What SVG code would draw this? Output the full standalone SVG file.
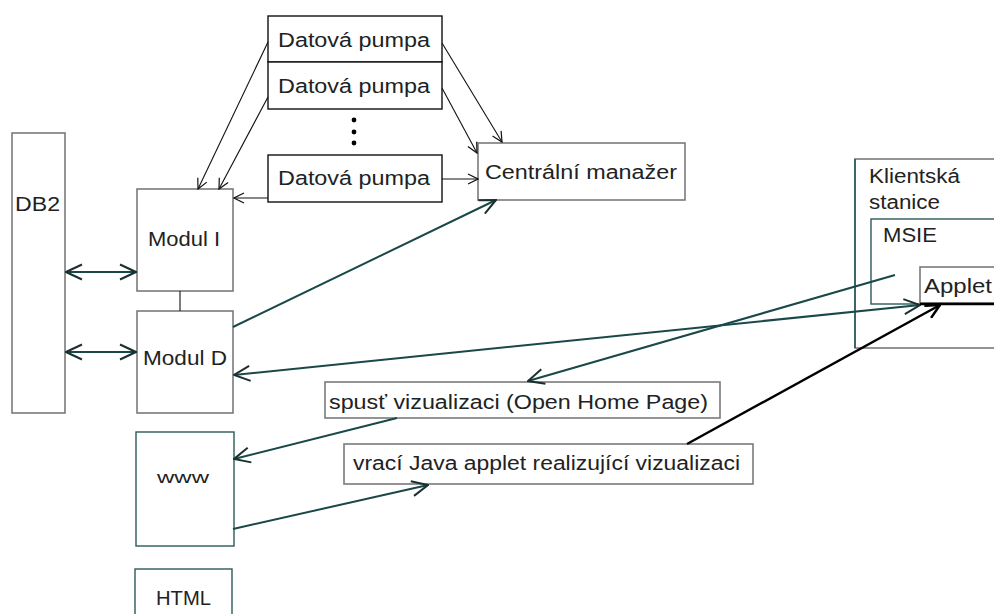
<svg xmlns="http://www.w3.org/2000/svg" width="994" height="614" viewBox="0 0 994 614">
<style>
text{font-family:"Liberation Sans",Arial,sans-serif;font-size:20px;fill:#222}
.gb{fill:#fff;stroke:#7a7a7a;stroke-width:1.6}
.bb{fill:#fff;stroke:#111;stroke-width:1.4}
.tb{fill:#fff;stroke:#2a5a5a;stroke-width:1.4}
.thin{stroke:#111;stroke-width:1.1;fill:none}
.teal{stroke:#1a4848;stroke-width:2;fill:none}
.blk{stroke:#000;stroke-width:2.4;fill:none}
</style>
<defs>
<marker id="a" viewBox="0 0 12 12" refX="11" refY="6" markerWidth="12" markerHeight="12" markerUnits="userSpaceOnUse" orient="auto-start-reverse">
<polyline points="1,1 11,6 1,11" fill="none" stroke="#111" stroke-width="1.2"/>
</marker>
<marker id="at" viewBox="0 0 18 18" refX="17" refY="9" markerWidth="18" markerHeight="18" markerUnits="userSpaceOnUse" orient="auto-start-reverse">
<polyline points="1,1.5 17,9 1,16.5" fill="none" stroke="#1a3030" stroke-width="2"/>
</marker>
<marker id="ab" viewBox="0 0 16 16" refX="15" refY="8" markerWidth="16" markerHeight="16" markerUnits="userSpaceOnUse" orient="auto-start-reverse">
<polyline points="1,1 15,8 1,15" fill="none" stroke="#000" stroke-width="2.6"/>
</marker>
</defs>

<g id="db2"><rect class="gb" x="12" y="133" width="53" height="280"/><text x="15" y="211" textLength="45" lengthAdjust="spacingAndGlyphs">DB2</text></g>
<g id="modul-i"><rect class="gb" x="137" y="189" width="96" height="102"/><text x="148" y="246" textLength="72" lengthAdjust="spacingAndGlyphs">Modul I</text></g>
<g id="modul-d"><rect class="gb" x="137" y="311" width="96" height="102"/><text x="143" y="365" textLength="84" lengthAdjust="spacingAndGlyphs">Modul D</text></g>
<g id="pumpa1"><rect class="bb" x="268" y="16" width="174" height="46"/><text x="278" y="47" textLength="152" lengthAdjust="spacingAndGlyphs">Datová pumpa</text></g>
<g id="pumpa2"><rect class="bb" x="268" y="62" width="174" height="47"/><text x="278" y="93" textLength="152" lengthAdjust="spacingAndGlyphs">Datová pumpa</text></g>
<g id="dots"><circle cx="354" cy="120" r="2.4" fill="#000"/><circle cx="354" cy="132" r="2.4" fill="#000"/><circle cx="354" cy="143" r="2.4" fill="#000"/></g>
<g id="pumpa3"><rect class="bb" x="268" y="155" width="174" height="47"/><text x="278" y="185" textLength="152" lengthAdjust="spacingAndGlyphs">Datová pumpa</text></g>
<g id="centralni"><rect class="gb" x="478" y="143" width="207" height="57"/><text x="485" y="179" textLength="192" lengthAdjust="spacingAndGlyphs">Centrální manažer</text></g>
<g id="klient"><rect class="gb" x="855" y="159" width="160" height="189"/><line x1="855" y1="159" x2="855" y2="348" stroke="#2a5a5a" stroke-width="1.6"/><text x="869" y="183" textLength="91" lengthAdjust="spacingAndGlyphs">Klientská</text><text x="869" y="209" textLength="71" lengthAdjust="spacingAndGlyphs">stanice</text></g>
<g id="msie"><rect class="tb" x="871" y="219" width="140" height="85"/><text x="883" y="242" textLength="54" lengthAdjust="spacingAndGlyphs">MSIE</text></g>
<g id="applet"><rect class="gb" x="920" y="267" width="90" height="36"/><text x="924" y="293" textLength="68" lengthAdjust="spacingAndGlyphs">Applet</text></g>
<g id="spust"><rect class="gb" x="325" y="382" width="395" height="36"/><text x="329" y="409" textLength="379" lengthAdjust="spacingAndGlyphs">spusť vizualizaci (Open Home Page)</text></g>
<g id="vraci"><rect class="gb" x="344" y="444" width="409" height="40"/><text x="353" y="470" textLength="387" lengthAdjust="spacingAndGlyphs">vrací Java applet realizující vizualizaci</text></g>
<g id="www"><rect class="tb" x="136" y="432" width="98" height="114"/><text x="157" y="483" textLength="52" lengthAdjust="spacingAndGlyphs" style="font-size:16px">www</text></g>
<g id="html"><rect class="tb" x="135" y="569" width="97" height="60"/><text x="156" y="605" textLength="55" lengthAdjust="spacingAndGlyphs">HTML</text></g>

<g id="connectors">
<line class="teal" x1="66" y1="272" x2="136" y2="272" marker-start="url(#at)" marker-end="url(#at)"/>
<line class="teal" x1="66" y1="352" x2="136" y2="352" marker-start="url(#at)" marker-end="url(#at)"/>
<line class="thin" x1="180" y1="291" x2="180" y2="311"/>
<line class="thin" x1="268" y1="42" x2="198" y2="189" marker-end="url(#a)"/>
<line class="thin" x1="268" y1="97" x2="219" y2="189" marker-end="url(#a)"/>
<line class="thin" x1="268" y1="198" x2="234" y2="198" marker-end="url(#a)"/>
<line class="thin" x1="442" y1="43" x2="502" y2="142" marker-end="url(#a)"/>
<line class="thin" x1="442" y1="88" x2="477" y2="153" marker-end="url(#a)"/>
<line class="thin" x1="442" y1="179" x2="478" y2="179" marker-end="url(#a)"/>
<line class="teal" x1="233" y1="327" x2="496" y2="200" marker-end="url(#at)"/>
<line class="teal" x1="234" y1="375" x2="920" y2="305" marker-start="url(#at)" marker-end="url(#at)"/>
<line class="teal" x1="895" y1="275" x2="528" y2="381" marker-end="url(#at)"/>
<line class="teal" x1="397" y1="418" x2="234" y2="459" marker-end="url(#at)"/>
<line class="teal" x1="233" y1="529" x2="428" y2="485" marker-end="url(#at)"/>
<line class="blk" x1="687" y1="444" x2="940" y2="305" marker-end="url(#ab)"/>
<line class="blk" x1="920" y1="304" x2="994" y2="304"/>
</g>
</svg>
